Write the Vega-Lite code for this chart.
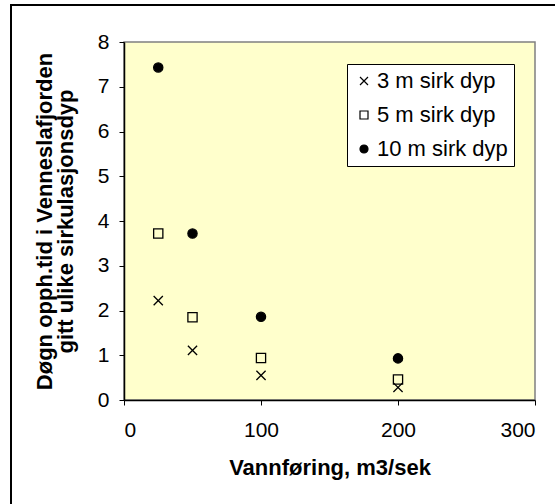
{
  "$schema": "https://vega.github.io/schema/vega-lite/v6.json",
  "width": 411,
  "height": 358,
  "autosize": {"type": "none"},
  "padding": {"left": 124, "top": 42, "right": 20, "bottom": 104},
  "background": "white",
  "config": {
    "font": "Liberation Sans",
    "view": {"fill": "#FFFFCC", "stroke": "#808080", "strokeWidth": 1.5},
    "axis": {
      "domainColor": "black", "domainWidth": 1.5, "tickColor": "black", "tickSize": 5, "tickWidth": 1,
      "labelFont": "Liberation Sans", "labelFontSize": 21, "labelColor": "black",
      "titleFont": "Liberation Sans", "titleFontSize": 22, "titleFontWeight": "bold", "titleColor": "black",
      "grid": false
    },
    "legend": {
      "orient": "none", "legendX": 223, "legendY": 22,
      "fillColor": "white", "strokeColor": "black", "strokeWidth": 1,
      "padding": 6, "labelFontSize": 22, "labelFont": "Liberation Sans", "labelColor": "black",
      "symbolSize": 64, "rowPadding": 12, "labelOffset": 2, "symbolStrokeWidth": 1.2
    }
  },
  "data": {"values": [
    {"q": 25, "d": 2.22, "s": "3 m sirk dyp"},
    {"q": 50, "d": 1.11, "s": "3 m sirk dyp"},
    {"q": 100, "d": 0.55, "s": "3 m sirk dyp"},
    {"q": 200, "d": 0.28, "s": "3 m sirk dyp"},
    {"q": 25, "d": 3.72, "s": "5 m sirk dyp"},
    {"q": 50, "d": 1.85, "s": "5 m sirk dyp"},
    {"q": 100, "d": 0.94, "s": "5 m sirk dyp"},
    {"q": 200, "d": 0.46, "s": "5 m sirk dyp"},
    {"q": 25, "d": 7.43, "s": "10 m sirk dyp"},
    {"q": 50, "d": 3.72, "s": "10 m sirk dyp"},
    {"q": 100, "d": 1.86, "s": "10 m sirk dyp"},
    {"q": 200, "d": 0.93, "s": "10 m sirk dyp"}
  ]},
  "layer": [
    {
      "mark": {"type": "rect", "fill": null, "fillOpacity": 0, "stroke": "black", "strokeWidth": 1.5, "clip": false},
      "encoding": {
        "x": {"datum": -82.5, "type": "quantitative"},
        "x2": {"datum": 400},
        "y": {"datum": 8.82, "type": "quantitative"},
        "y2": {"datum": -5}
      }
    },
    {
      "mark": {"type": "point", "opacity": 1, "strokeWidth": 1.3, "size": 85},
      "encoding": {
        "x": {
          "field": "q", "type": "quantitative",
          "scale": {"domain": [0, 300], "nice": false, "zero": false},
          "axis": {"values": [0, 100, 200, 300], "title": "Vannføring, m3/sek", "labelPadding": 14, "titlePadding": 17}
        },
        "y": {
          "field": "d", "type": "quantitative",
          "scale": {"domain": [0, 8], "nice": false, "zero": false},
          "axis": {"values": [0, 1, 2, 3, 4, 5, 6, 7, 8], "title": ["Døgn opph.tid i Venneslafjorden", "gitt ulike sirkulasjonsdyp"], "titleLineHeight": 21, "labelPadding": 10, "titlePadding": 20}
        },
        "shape": {
          "field": "s", "type": "nominal", "title": null,
          "scale": {"domain": ["3 m sirk dyp", "5 m sirk dyp", "10 m sirk dyp"], "range": ["M-1,-1L1,1M-1,1L1,-1", "square", "circle"]}
        },
        "fill": {
          "field": "s", "type": "nominal", "title": null,
          "scale": {"domain": ["3 m sirk dyp", "5 m sirk dyp", "10 m sirk dyp"], "range": ["transparent", "transparent", "black"]}
        },
        "stroke": {
          "field": "s", "type": "nominal", "title": null,
          "scale": {"domain": ["3 m sirk dyp", "5 m sirk dyp", "10 m sirk dyp"], "range": ["black", "black", "black"]}
        }
      }
    }
  ]
}
